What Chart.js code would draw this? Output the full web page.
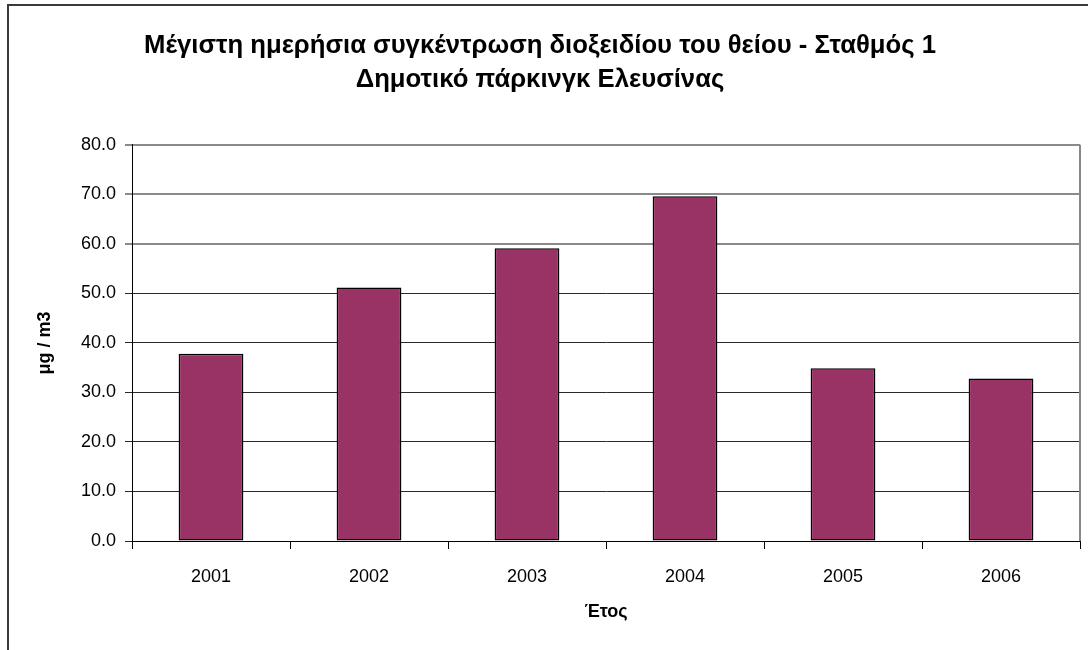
<!DOCTYPE html>
<html lang="el">
<head>
<meta charset="UTF-8">
<title>Μέγιστη ημερήσια συγκέντρωση SO2</title>
<script src="https://cdn.jsdelivr.net/npm/chart.js"></script>
<style>
  html, body { margin: 0; padding: 0; background: #fff; overflow: hidden; }
  canvas { display: block; }
</style>
</head>
<body>
<canvas id="so2Chart" width="1088" height="650"></canvas>
<script>
// ετήσια μέγιστα (μg/m3)
const years = ['2001', '2002', '2003', '2004', '2005', '2006'];
const maxDaily = [37.8, 51.2, 59.1, 69.6, 34.9, 32.8];
const titleLines = [
  'Μέγιστη ημερήσια συγκέντρωση διοξειδίου του θείου - Σταθμός 1',
  'Δημοτικό πάρκινγκ Ελευσίνας'
];
const yMin = 0, yMax = 80, yStep = 10;

const FONT = "'Liberation Sans', Arial, sans-serif";

// πλαίσιο γραφήματος + περίγραμμα περιοχής σχεδίασης
const frames = {
  id: 'frames',
  beforeDraw(chart) {
    const ctx = chart.ctx;
    ctx.save();
    ctx.strokeStyle = '#3a3a3a';
    ctx.lineWidth = 2;
    ctx.beginPath();
    ctx.moveTo(8, 660);
    ctx.lineTo(8, 5);
    ctx.lineTo(1100, 5);
    ctx.stroke();
    ctx.restore();
  },
  beforeDatasetsDraw(chart) {
    const { ctx, chartArea: a } = chart;
    ctx.save();
    ctx.strokeStyle = '#888';
    ctx.lineWidth = 2;
    ctx.beginPath();
    ctx.moveTo(a.right, a.top);
    ctx.lineTo(a.right, a.bottom);
    ctx.stroke();
    ctx.restore();
  }
};

new Chart(document.getElementById('so2Chart'), {
  type: 'bar',
  data: {
    labels: years,
    datasets: [{
      data: maxDaily,
      backgroundColor: '#993366',
      borderColor: '#000',
      borderWidth: 1.5,
      borderSkipped: false,
      categoryPercentage: 1,
      barPercentage: 0.41
    }]
  },
  options: {
    responsive: false,
    animation: false,
    layout: { padding: { left: 0, right: 8, top: 0, bottom: 0 } },
    plugins: {
      legend: { display: false },
      tooltip: { enabled: false },
      title: {
        display: true,
        text: titleLines,
        color: '#000',
        font: { family: FONT, size: 25.7, weight: 'bold', lineHeight: 1.32 },
        padding: { top: 29, bottom: 48 }
      }
    },
    scales: {
      x: {
        afterFit(scale) { scale.height = 109; },
        border: { color: '#000', width: 1 },
        grid: { drawOnChartArea: false, drawTicks: true, tickLength: 8, color: '#000' },
        ticks: { color: '#000', padding: 17, font: { family: FONT, size: 18 } },
        title: {
          display: true,
          text: 'Έτος',
          color: '#000',
          font: { family: FONT, size: 18, weight: 'bold' },
          padding: { top: 0, bottom: 27 }
        }
      },
      y: {
        min: yMin,
        max: yMax,
        afterFit(scale) { scale.width = 132; },
        border: { color: '#000', width: 1 },
        grid: {
          tickLength: 7,
          color: c => c.tick && c.tick.value >= 60 ? '#8a8a8a' : '#2a2a2a',
          lineWidth: c => c.tick && c.tick.value >= 60 ? 2 : 1
        },
        ticks: {
          stepSize: yStep,
          color: '#000',
          padding: 9,
          font: { family: FONT, size: 18 },
          callback: v => v.toFixed(1)
        },
        title: {
          display: true,
          text: 'μg / m3',
          color: '#000',
          font: { family: FONT, size: 18, weight: 'bold' },
          padding: { top: 34, bottom: 0 }
        }
      }
    }
  },
  plugins: [frames]
});
</script>
</body>
</html>
